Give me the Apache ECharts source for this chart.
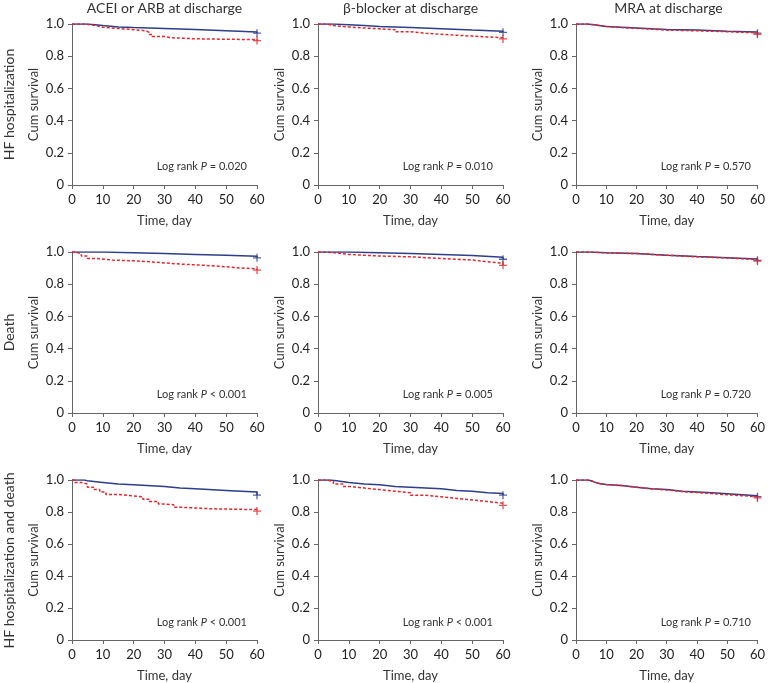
<!DOCTYPE html>
<html>
<head>
<meta charset="utf-8">
<script src="https://cdn.jsdelivr.net/npm/echarts@6/dist/echarts.min.js"></script>
<style>
  html, body { margin: 0; padding: 0; background: #fff; }
  #chart { width: 768px; height: 683px; }
</style>
</head>
<body>
<div id="chart"></div>
<script>
// Column (drug) and row (outcome) headings, plus the log-rank annotations.
const DRUGS = ["ACEI or ARB at discharge", "\u03b2-blocker at discharge", "MRA at discharge"];
const OUTCOMES = ["HF hospitalization", "Death", "HF hospitalization and death"];
const LOG_RANK = [
  ["= 0.020", "= 0.010", "= 0.570"],
  ["< 0.001", "= 0.005", "= 0.720"],
  ["< 0.001", "< 0.001", "= 0.710"],
];

// Kaplan-Meier curves: [day, cumulative survival].
// blue = on the drug at discharge, red = not on it.
const hospAceiBlue = [[0, 1], [5, 0.99], [10, 0.982], [15, 0.978], [20, 0.972], [30, 0.966], [40, 0.958], [50, 0.95], [60, 0.943]];
const hospAceiRed = [[0, 1], [4, 0.99], [8, 0.98], [10, 0.972], [15, 0.965], [20, 0.958], [24, 0.948], [25, 0.935], [26, 0.922], [30, 0.915], [32, 0.908], [40, 0.903], [60, 0.897]];
const hospBetaBlue = [[0, 1], [5, 0.995], [10, 0.99], [15, 0.984], [20, 0.978], [30, 0.97], [40, 0.962], [50, 0.955], [60, 0.948]];
const hospBetaRed = [[0, 1], [3, 0.99], [5, 0.982], [10, 0.975], [15, 0.97], [20, 0.965], [25, 0.952], [30, 0.942], [35, 0.936], [40, 0.93], [45, 0.925], [50, 0.92], [55, 0.914], [60, 0.907]];
const hospMraBlue = [[0, 1], [4, 0.995], [6, 0.985], [10, 0.98], [15, 0.975], [20, 0.97], [25, 0.966], [30, 0.962], [40, 0.955], [50, 0.95], [60, 0.943]];
const hospMraRed = [[0, 1], [4, 0.995], [6, 0.985], [10, 0.978], [15, 0.973], [20, 0.968], [25, 0.962], [30, 0.958], [40, 0.952], [50, 0.945], [60, 0.936]];

const deathAceiBlue = [[0, 1], [10, 0.995], [20, 0.99], [30, 0.985], [40, 0.98], [50, 0.973], [60, 0.964]];
const deathAceiRed = [[0, 1], [1, 0.99], [3, 0.975], [5, 0.96], [8, 0.95], [13, 0.945], [20, 0.94], [25, 0.932], [30, 0.925], [35, 0.915], [45, 0.908], [50, 0.9], [55, 0.895], [60, 0.888]];
const deathBetaBlue = [[0, 1], [10, 0.995], [20, 0.99], [30, 0.985], [40, 0.978], [50, 0.967], [60, 0.955]];
const deathBetaRed = [[0, 1], [3, 0.99], [8, 0.985], [10, 0.975], [20, 0.97], [30, 0.96], [40, 0.95], [50, 0.94], [55, 0.93], [60, 0.917]];
const deathMraBlue = [[0, 1], [5, 0.995], [10, 0.99], [20, 0.98], [30, 0.972], [40, 0.965], [50, 0.957], [60, 0.948]];
const deathMraRed = [[0, 1], [5, 0.995], [10, 0.99], [20, 0.98], [30, 0.97], [40, 0.963], [50, 0.953], [60, 0.943]];

const bothAceiBlue = [[0, 1], [4, 0.995], [5, 0.985], [10, 0.975], [15, 0.97], [20, 0.96], [30, 0.95], [35, 0.945], [40, 0.935], [50, 0.925], [60, 0.905]];
const bothAceiRed = [[0, 1], [1, 0.985], [3, 0.975], [5, 0.955], [7, 0.94], [9, 0.925], [11, 0.91], [15, 0.9], [20, 0.895], [23, 0.88], [25, 0.865], [28, 0.85], [30, 0.845], [33, 0.83], [35, 0.82], [45, 0.815], [60, 0.806]];
const bothBetaBlue = [[0, 1], [4, 0.995], [6, 0.985], [10, 0.975], [15, 0.97], [20, 0.96], [25, 0.955], [30, 0.95], [35, 0.945], [40, 0.935], [45, 0.93], [50, 0.92], [55, 0.915], [60, 0.905]];
const bothBetaRed = [[0, 1], [3, 0.99], [5, 0.975], [8, 0.96], [10, 0.95], [15, 0.94], [20, 0.93], [25, 0.92], [30, 0.905], [35, 0.895], [40, 0.885], [45, 0.875], [50, 0.865], [55, 0.855], [60, 0.842]];
const bothMraBlue = [[0, 1], [4, 0.995], [5, 0.988], [6, 0.982], [7, 0.977], [8, 0.972], [10, 0.965], [15, 0.955], [20, 0.945], [25, 0.94], [30, 0.93], [35, 0.925], [40, 0.92], [45, 0.914], [50, 0.908], [55, 0.902], [60, 0.896]];
const bothMraRed = [[0, 1], [4, 0.995], [5, 0.988], [6, 0.982], [7, 0.977], [8, 0.972], [10, 0.965], [15, 0.955], [20, 0.945], [25, 0.938], [30, 0.928], [35, 0.922], [40, 0.915], [45, 0.908], [50, 0.902], [55, 0.895], [60, 0.888]];

const CURVES = [
  [[hospAceiBlue, hospAceiRed], [hospBetaBlue, hospBetaRed], [hospMraBlue, hospMraRed]],
  [[deathAceiBlue, deathAceiRed], [deathBetaBlue, deathBetaRed], [deathMraBlue, deathMraRed]],
  [[bothAceiBlue, bothAceiRed], [bothBetaBlue, bothBetaRed], [bothMraBlue, bothMraRed]],
];

const BLUE = "#2c3e8c";
const RED = "#e2262c";
const TEXT = "#333";
const FONT = "Lato, 'Noto Sans', sans-serif";
const PLUS = "path://M0,4.2H10V5.8H0Z M4.2,0H5.8V10H4.2Z";

const COL_LEFT = [72, 318, 576];
const ROW_TOP = [24, 252, 480];
const PLOT_W = 185;
const PLOT_H = 161;

const grid = [], xAxis = [], yAxis = [], series = [], graphic = [];

ROW_TOP.forEach((top, r) => {
  COL_LEFT.forEach((left, c) => {
    const i = grid.length;
    grid.push({ left, top, width: PLOT_W, height: PLOT_H });
    xAxis.push({
      gridIndex: i, type: "value", min: 0, max: 60, interval: 10,
      name: "Time, day", nameLocation: "middle", nameGap: 29,
      nameTextStyle: { color: TEXT, fontSize: 13, fontFamily: FONT },
      axisLine: { lineStyle: { color: "#666" } },
      axisTick: { length: 4, lineStyle: { color: "#666" } },
      axisLabel: { color: "#222", fontSize: 13, margin: 8, fontFamily: FONT },
      splitLine: { show: false },
    });
    yAxis.push({
      gridIndex: i, type: "value", min: 0, max: 1, interval: 0.2,
      name: "Cum survival", nameLocation: "middle", nameGap: 32,
      nameTextStyle: { color: TEXT, fontSize: 13, fontFamily: FONT },
      axisLine: { show: true, lineStyle: { color: "#666" } },
      axisTick: { show: true, length: 4, lineStyle: { color: "#666" } },
      axisLabel: {
        color: "#222", fontSize: 13, margin: 8, fontFamily: FONT,
        formatter: (v) => (v === 0 ? "0" : v.toFixed(1)),
      },
      splitLine: { show: false },
    });
    const [blue, red] = CURVES[r][c];
    [[blue, BLUE, "solid"], [red, RED, [3, 2]]].forEach(([data, color, type]) => {
      series.push({
        type: "line", xAxisIndex: i, yAxisIndex: i, step: "end",
        showSymbol: false, data, silent: true,
        lineStyle: { color, width: 1.5, type },
      });
      // censor mark at the end of follow-up
      series.push({
        type: "scatter", xAxisIndex: i, yAxisIndex: i, silent: true,
        data: [data[data.length - 1]],
        symbol: PLUS, symbolSize: 8, itemStyle: { color },
      });
    });
    graphic.push({
      type: "text", x: left + PLOT_W - 10, y: top + PLOT_H - 19,
      style: {
        text: `{n|Log rank }{i|P}{n| ${LOG_RANK[r][c]}}`,
        align: "right", verticalAlign: "middle",
        rich: {
          n: { fontSize: 11, fill: TEXT, fontFamily: FONT },
          i: { fontSize: 11, fill: TEXT, fontFamily: FONT, fontStyle: "italic" },
        },
      },
    });
  });
});

DRUGS.forEach((t, c) => {
  graphic.push({
    type: "text", x: COL_LEFT[c] + PLOT_W / 2, y: 8,
    style: { text: t, align: "center", verticalAlign: "middle", fill: TEXT, fontSize: 14, fontFamily: FONT },
  });
});
OUTCOMES.forEach((t, r) => {
  graphic.push({
    type: "text", x: 9, y: ROW_TOP[r] + PLOT_H / 2, rotation: Math.PI / 2,
    style: { text: t, align: "center", verticalAlign: "middle", fill: TEXT, fontSize: 14, fontFamily: FONT },
  });
});

const chart = echarts.init(document.getElementById("chart"));
chart.setOption({ animation: false, grid, xAxis, yAxis, series, graphic });
</script>
</body>
</html>
